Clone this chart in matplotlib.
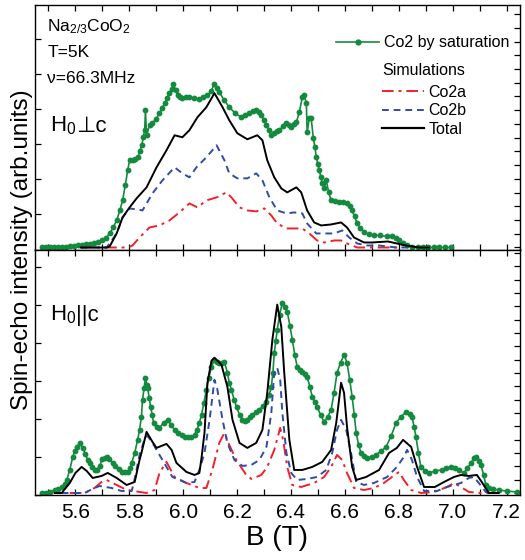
import numpy as np
import matplotlib
matplotlib.use('Agg')
import matplotlib.pyplot as plt
from matplotlib.lines import Line2D
from matplotlib.ticker import MultipleLocator, FixedLocator

plt.rcParams['font.family'] = ['Liberation Sans', 'DejaVu Sans']
plt.rcParams['mathtext.fontset'] = 'custom'
plt.rcParams['mathtext.rm'] = 'Liberation Sans'
plt.rcParams['mathtext.it'] = 'Liberation Sans:italic'
plt.rcParams['mathtext.bf'] = 'Liberation Sans:bold'

GREEN = '#148a3e'
RED = '#f2202a'
BLUE = '#2f4ca8'

# ---- H0 perp c (top panel) ----
perp_sat_B = [5.475, 5.49, 5.505, 5.52, 5.535, 5.55, 5.565, 5.58, 5.595, 5.61, 5.625, 5.64, 5.655, 5.67,
              5.685, 5.70, 5.712, 5.727, 5.740, 5.753, 5.765, 5.775, 5.785, 5.794, 5.801, 5.812, 5.822,
              5.831, 5.840, 5.846, 5.852, 5.857, 5.860, 5.864, 5.875, 5.886, 5.899, 5.912, 5.922, 5.931,
              5.940, 5.949, 5.957, 5.964, 5.972, 5.979, 5.988, 5.997, 6.010, 6.023, 6.041, 6.060, 6.075,
              6.090, 6.103, 6.116, 6.125, 6.134, 6.152, 6.171, 6.193, 6.216, 6.231, 6.246, 6.259, 6.271,
              6.281, 6.290, 6.300, 6.309, 6.318, 6.327, 6.338, 6.348, 6.357, 6.370, 6.383, 6.392, 6.401,
              6.411, 6.420, 6.431, 6.442, 6.449, 6.457, 6.460, 6.468, 6.475, 6.483, 6.489, 6.494, 6.500,
              6.505, 6.511, 6.516, 6.524, 6.531, 6.540, 6.549, 6.564, 6.579, 6.594, 6.608, 6.618, 6.627,
              6.636, 6.646, 6.658, 6.671, 6.690, 6.708, 6.730, 6.755, 6.775, 6.790, 6.801, 6.815, 6.830,
              6.849, 6.87, 6.89, 6.91, 6.93, 6.95, 6.97, 6.994]
perp_sat_I = [0, 0, 0, 0, 0, 0, 0.5, 1, 1, 2, 2, 3, 3, 4,
              5, 7, 9, 14, 20, 27, 37, 47, 62, 77, 87, 87, 88,
              90, 96, 102, 110, 117, 137, 112, 122, 124, 128, 134, 139, 144,
              149, 154, 158, 163, 157, 152, 150, 149, 150, 150, 149, 148, 150,
              152, 156, 163, 159, 155, 147, 140, 134, 130, 132, 134, 136, 137,
              135, 132, 127, 122, 117, 112, 114, 116, 117, 121, 124, 122, 120,
              123, 125, 135, 150, 152, 144, 115, 129, 129, 109, 100, 90, 83,
              77, 70, 64, 59, 67, 55, 47, 46, 45, 45, 44, 41, 37,
              31, 24, 19, 15, 13, 12, 12, 11, 11, 9, 7, 4, 2,
              0, 0, 0, 0, 0, 0, 0, 0]

perp_a_B = [5.62, 5.727, 5.794, 5.812, 5.838, 5.875, 5.912, 5.949, 5.986, 6.023, 6.053, 6.086, 6.124,
            6.160, 6.179, 6.209, 6.238, 6.271, 6.301, 6.327, 6.349, 6.383, 6.412, 6.442, 6.468, 6.497,
            6.524, 6.560, 6.586, 6.608, 6.646, 6.801]
perp_a_I = [0, 0, 0, 2, 10, 20, 22, 27, 35, 44, 40, 47, 50,
            55, 50, 40, 37, 36, 39, 32, 24, 19, 19, 19, 14, 7,
            5, 7, 7, 4, 0, 0]

perp_b_B = [5.62, 5.716, 5.753, 5.775, 5.801, 5.827, 5.849, 5.886, 5.923, 5.968, 5.997, 6.023, 6.049,
            6.086, 6.124, 6.153, 6.171, 6.201, 6.238, 6.271, 6.294, 6.320, 6.349, 6.383, 6.412, 6.442,
            6.460, 6.494, 6.524, 6.560, 6.590, 6.616, 6.646, 6.683, 6.727, 6.790, 6.85]
perp_b_I = [0, 0, 14, 30, 39, 38, 37, 54, 67, 80, 74, 70, 80,
            90, 102, 87, 74, 69, 69, 74, 67, 50, 37, 34, 35, 34,
            24, 14, 14, 14, 17, 10, 4, 2, 2, 0, 0]

perp_tot_B = [5.62, 5.716, 5.727, 5.753, 5.775, 5.801, 5.827, 5.864, 5.901, 5.938, 5.968, 5.997, 6.023,
              6.053, 6.086, 6.116, 6.146, 6.171, 6.201, 6.238, 6.275, 6.294, 6.312, 6.338, 6.364, 6.386,
              6.420, 6.438, 6.460, 6.486, 6.512, 6.549, 6.586, 6.608, 6.634, 6.671, 6.701, 6.760, 6.827,
              6.875, 6.912]
perp_tot_I = [0, 0, 1, 14, 30, 40, 49, 60, 80, 97, 112, 110, 117,
              130, 140, 154, 140, 127, 114, 108, 112, 107, 87, 70, 59, 55,
              60, 55, 37, 25, 22, 23, 25, 20, 10, 5, 5, 6, 2,
              0, 0]

# ---- H0 || c (bottom panel) ----
par_sat_B = [5.475, 5.49, 5.505, 5.523, 5.536, 5.549, 5.560, 5.568, 5.579, 5.590, 5.598, 5.605, 5.616,
             5.627, 5.637, 5.646, 5.653, 5.662, 5.671, 5.679, 5.690, 5.700, 5.708, 5.716, 5.726, 5.738,
             5.748, 5.760, 5.772, 5.783, 5.794, 5.803, 5.809, 5.820, 5.831, 5.838, 5.845, 5.849, 5.855,
             5.860, 5.864, 5.868, 5.874, 5.879, 5.885, 5.890, 5.901, 5.912, 5.927, 5.942, 5.955, 5.968,
             5.981, 5.994, 6.005, 6.016, 6.030, 6.042, 6.051, 6.060, 6.068, 6.077, 6.086, 6.095, 6.105,
             6.116, 6.125, 6.134, 6.144, 6.153, 6.164, 6.171, 6.179, 6.189, 6.198, 6.209, 6.220, 6.229,
             6.238, 6.248, 6.257, 6.270, 6.283, 6.296, 6.309, 6.319, 6.327, 6.333, 6.338, 6.344, 6.349,
             6.358, 6.368, 6.377, 6.386, 6.396, 6.405, 6.414, 6.423, 6.432, 6.442, 6.451, 6.460, 6.470,
             6.479, 6.488, 6.497, 6.510, 6.523, 6.536, 6.549, 6.560, 6.571, 6.584, 6.597, 6.608, 6.618,
             6.627, 6.635, 6.642, 6.651, 6.660, 6.671, 6.683, 6.700, 6.716, 6.735, 6.753, 6.772, 6.790,
             6.808, 6.827, 6.840, 6.849, 6.857, 6.864, 6.873, 6.882, 6.897, 6.912, 6.936, 6.960, 6.977,
             6.994, 7.010, 7.023, 7.042, 7.055, 7.068, 7.080, 7.086, 7.098, 7.105, 7.115, 7.123, 7.134,
             7.150, 7.171, 7.20, 7.238]
par_sat_I = [0, 0, 1, 3, 4, 6, 9, 13, 23, 36, 42, 46, 50,
             45, 39, 33, 30, 26, 23, 23, 27, 34, 35, 36, 34, 30,
             27, 24, 21, 21, 21, 25, 30, 40, 53, 63, 76, 93, 105,
             115, 108, 105, 95, 86, 78, 70, 66, 65, 70, 73, 68, 63,
             60, 58, 56, 56, 56, 58, 63, 70, 78, 90, 103, 115, 126,
             133, 131, 130, 130, 131, 120, 110, 103, 93, 86, 78, 73, 72,
             73, 76, 78, 81, 83, 87, 91, 98, 106, 120, 140, 152, 163,
             178, 190, 186, 181, 167, 153, 138, 126, 123, 121, 119, 116, 106,
             96, 91, 86, 78, 71, 76, 83, 100, 120, 130, 138, 130, 113,
             96, 78, 60, 48, 40, 37, 35, 36, 38, 42, 46, 57, 70,
             76, 81, 79, 76, 66, 56, 40, 26, 22, 20, 22, 23, 25,
             26, 25, 23, 20, 25, 30, 35, 36, 32, 28, 18, 8, 5,
             4, 3, 2, 1]

par_a_B = [5.579, 5.634, 5.671, 5.697, 5.716, 5.753, 5.790, 5.864, 5.894, 5.912, 5.938, 5.968, 6.012,
           6.060, 6.086, 6.108, 6.134, 6.153, 6.171, 6.197, 6.234, 6.253, 6.290, 6.312, 6.338, 6.360,
           6.371, 6.386, 6.405, 6.438, 6.486, 6.523, 6.549, 6.571, 6.590, 6.608, 6.634, 6.671, 6.708,
           6.745, 6.775, 6.801, 6.819, 6.846, 6.883, 6.931, 6.979, 7.005, 7.031, 7.060, 7.105, 7.14]
par_a_I = [0, 0, 5, 11, 13, 8, 3, 0, 3, 20, 31, 16, 10,
           5, 5, 23, 50, 60, 48, 33, 18, 14, 18, 26, 43, 65,
           53, 26, 8, 6, 10, 16, 26, 38, 33, 20, 5, 3, 5,
           10, 16, 21, 13, 3, 0, 1, 6, 10, 6, 1, 0, 0]

par_b_B = [5.549, 5.634, 5.671, 5.690, 5.734, 5.771, 5.809, 5.820, 5.838, 5.857, 5.868, 5.886, 5.901,
           5.923, 5.960, 6.012, 6.042, 6.060, 6.079, 6.098, 6.116, 6.127, 6.146, 6.164, 6.190, 6.220,
           6.253, 6.283, 6.309, 6.327, 6.338, 6.349, 6.360, 6.368, 6.383, 6.401, 6.423, 6.460, 6.497,
           6.531, 6.553, 6.571, 6.586, 6.605, 6.623, 6.642, 6.671, 6.708, 6.757, 6.793, 6.819, 6.831,
           6.849, 6.868, 6.894, 6.942, 6.979, 7.031, 7.060, 7.079, 7.097, 7.123, 7.153]
par_b_I = [0, 0, 5, 7, 5, 2, 2, 14, 38, 54, 57, 50, 43,
           33, 16, 10, 11, 23, 40, 73, 113, 103, 73, 50, 33, 27,
           28, 33, 46, 80, 120, 125, 113, 80, 40, 20, 13, 14, 16,
           23, 40, 63, 73, 63, 40, 11, 8, 10, 16, 26, 36, 43,
           33, 16, 2, 2, 6, 10, 15, 16, 10, 1, 0]

par_tot_B = [5.523, 5.549, 5.579, 5.600, 5.623, 5.642, 5.664, 5.697, 5.720, 5.753, 5.790, 5.820, 5.838,
             5.845, 5.864, 5.886, 5.901, 5.938, 5.957, 5.975, 6.012, 6.042, 6.060, 6.068, 6.079, 6.090,
             6.105, 6.116, 6.142, 6.164, 6.183, 6.209, 6.238, 6.271, 6.294, 6.312, 6.331, 6.349, 6.364,
             6.375, 6.394, 6.412, 6.442, 6.479, 6.516, 6.549, 6.568, 6.586, 6.597, 6.608, 6.627, 6.642,
             6.679, 6.727, 6.764, 6.793, 6.816, 6.846, 6.868, 6.894, 6.934, 6.968, 7.005, 7.031, 7.060,
             7.090, 7.108, 7.134, 7.171]
par_tot_I = [0, 0, 10, 20, 26, 22, 15, 17, 20, 15, 8, 11, 33,
             40, 61, 51, 45, 49, 43, 30, 21, 18, 20, 35, 60, 110,
             132, 135, 128, 106, 73, 50, 45, 50, 63, 100, 153, 188, 166,
             120, 53, 23, 23, 26, 31, 43, 70, 110, 100, 66, 26, 13,
             16, 23, 40, 45, 53, 46, 26, 6, 6, 11, 16, 18, 17,
             18, 11, 0, 0]

B_ticks = [5.6, 5.8, 6.0, 6.2, 6.4, 6.6, 6.8, 7.0, 7.2]


def draw_panel(ax, sat, a, b, tot, ylim, ystep, rstep):
    ax.plot(sat[0], sat[1], '-o', color=GREEN, lw=1.2, ms=4.2, mew=0, zorder=2)
    ax.plot(a[0], a[1], color=RED, lw=1.4, dashes=(6, 2.5, 1.5, 2.5), zorder=3)
    ax.plot(b[0], b[1], color=BLUE, lw=1.4, dashes=(3.5, 2.5), zorder=3)
    ax.plot(tot[0], tot[1], color='black', lw=1.4, zorder=4)
    ax.set_xlim(5.45, 7.25)
    ax.set_ylim(*ylim)
    ax.set_xticks(B_ticks)
    ax.xaxis.set_minor_locator(MultipleLocator(0.1))
    ax.yaxis.set_major_locator(FixedLocator(np.arange(ylim[0], ylim[1], ystep)))
    ax.yaxis.set_minor_locator(MultipleLocator(rstep))
    ax.tick_params(axis='x', which='both', direction='in', top=True, bottom=True, length=4.5, width=0.9)
    ax.tick_params(axis='y', which='major', direction='in', left=True, right=False, length=4.5, width=0.9,
                   labelleft=False)
    ax.tick_params(axis='y', which='minor', direction='in', left=False, right=True, length=4, width=0.9)
    for s in ax.spines.values():
        s.set_linewidth(1.0)


fig = plt.figure(figsize=(5.25, 5.6), dpi=100)
ax1 = fig.add_axes([35 / 525, 1 - 249.5 / 560, 485 / 525, 244.5 / 560])
ax2 = fig.add_axes([35 / 525, 1 - 495 / 560, 485 / 525, 245.5 / 560])

draw_panel(ax1, (perp_sat_B, perp_sat_I), (perp_a_B, perp_a_I), (perp_b_B, perp_b_I),
           (perp_tot_B, perp_tot_I), (-2, 242), 35, 13.7)
draw_panel(ax2, (par_sat_B, par_sat_I), (par_a_B, par_a_I), (par_b_B, par_b_I),
           (par_tot_B, par_tot_I), (-2, 243), 38, 13.3)

ax1.tick_params(axis='x', labelbottom=False)
ax2.tick_params(axis='x', labelsize=15, pad=6)
ax2.set_xlabel('B (T)', fontsize=20, labelpad=2)

fig.text(0.042, 0.554, 'Spin-echo intensity (arb.units)', rotation=90, ha='center', va='center', fontsize=17.5)

# sample info
ax1.text(0.025, 0.91, r'Na$\mathregular{_{2/3}}$CoO$\mathregular{_2}$', transform=ax1.transAxes,
         fontsize=12.5, va='center', ha='left')
ax1.text(0.025, 0.805, 'T=5K', transform=ax1.transAxes, fontsize=12.5, va='center', ha='left')
ax1.text(0.025, 0.70, 'ν=66.3MHz', transform=ax1.transAxes, fontsize=12.5, va='center', ha='left')
# H0 label: mathtext part for the subscript, plain text after it so ⊥ falls back to DejaVu
hp = ax1.text(0.03, 0.485, r'H$\mathregular{_0}$', transform=ax1.transAxes, fontsize=16,
              va='baseline', ha='left')
ax1.annotate('⊥c', xy=(1, 0), xycoords=hp, xytext=(0, 0), textcoords='offset points',
             fontsize=16, va='bottom', ha='left')
hq = ax2.text(0.03, 0.71, r'H$\mathregular{_0}$', transform=ax2.transAxes, fontsize=16,
              va='baseline', ha='left')
ax2.annotate('||c', xy=(1, 0), xycoords=hq, xytext=(0, 0), textcoords='offset points',
             fontsize=16, va='bottom', ha='left')

# legends
h_sat = Line2D([], [], color=GREEN, lw=1.2, marker='o', ms=4.5, mew=0)
leg1 = ax1.legend([h_sat], ['Co2 by saturation'], loc='center left',
                  bbox_to_anchor=(336 / 525, 1 - 43 / 560), bbox_transform=fig.transFigure,
                  frameon=False, fontsize=11.5, handlelength=2.7, handletextpad=0.3,
                  borderpad=0, borderaxespad=0)
ax1.add_artist(leg1)
h_a = Line2D([], [], color=RED, lw=1.4, dashes=(6, 2.5, 1.5, 2.5))
h_b = Line2D([], [], color=BLUE, lw=1.4, dashes=(3.5, 2.5))
h_t = Line2D([], [], color='black', lw=1.6)
leg2 = ax1.legend([h_a, h_b, h_t], ['Co2a', 'Co2b', 'Total'], loc='upper left',
                  bbox_to_anchor=(382 / 525, 1 - 63 / 560), bbox_transform=fig.transFigure,
                  title='Simulations', title_fontsize=11.5, alignment='left',
                  frameon=False, fontsize=11.5, handlelength=2.6, handletextpad=0.3,
                  labelspacing=0.22, borderpad=0, borderaxespad=0)
leg2._legend_box.sep = 5

fig.savefig('out.png', dpi=100)
